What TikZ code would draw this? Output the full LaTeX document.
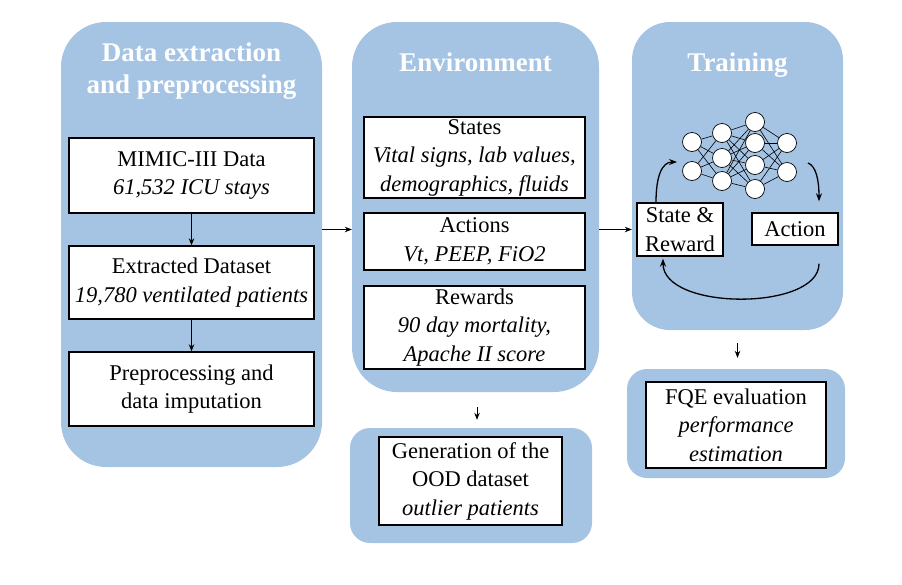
\documentclass[tikz,border=0pt]{standalone}
\usepackage{fontspec}
\setmainfont{Liberation Serif}
\usetikzlibrary{arrows.meta}
\definecolor{panelblue}{HTML}{A5C3E3}
\tikzset{
  panel/.style={draw=none, fill=panelblue, rectangle, inner sep=0},
  txtbox/.style={draw=black, line width=1.4pt, fill=white, align=center, inner sep=0,
    font=\fontsize{22.5}{28.5}\selectfont},
  ttl/.style={text=white, font=\fontsize{27}{32}\selectfont\bfseries, align=center, inner sep=0},
  neuron/.style={circle, draw=black, line width=0.7pt, fill=white, minimum size=19pt, inner sep=0},
  arr/.style={-{Stealth[length=7pt,width=5.5pt]}, line width=0.9pt},
  carr/.style={-{Stealth[length=8pt,width=6pt]}, line width=1.3pt},
}
\begin{document}
\begin{tikzpicture}[x=1pt,y=-1pt]
\useasboundingbox (0,0) rectangle (902,584);
% panels
\node[panel, rounded corners=45pt, minimum width=261pt, minimum height=445pt] (p1) at (191.5,244.5) {};
\node[panel, rounded corners=45pt, minimum width=247pt, minimum height=370pt] (p2) at (475.5,207) {};
\node[panel, rounded corners=38pt, minimum width=211pt, minimum height=308pt] (p3) at (737.5,176) {};
\node[panel, rounded corners=20pt, minimum width=242pt, minimum height=115pt] (p4) at (471,485.5) {};
\node[panel, rounded corners=20pt, minimum width=218pt, minimum height=109pt] (p5) at (736,423.5) {};
% titles
\node[ttl] (t1) at (191.5,71) {Data extraction\\and preprocessing};
\node[ttl, anchor=base] (t2) at (475.5,71) {Environment};
\node[ttl, anchor=base] (t3) at (737.5,71) {Training};
% left column boxes
\node[txtbox, minimum width=245pt, minimum height=75pt] (mimic) at (191.5,175.5) {MIMIC-III Data\\\textit{61,532 ICU stays}};
\node[txtbox, minimum width=245pt, minimum height=73pt] (extr) at (191.5,282.5) {Extracted Dataset\\\textit{19,780 ventilated patients}};
\node[txtbox, minimum width=245pt, minimum height=74pt] (prep) at (191.5,389) {Preprocessing and\\data imputation};
% middle boxes
\node[txtbox, minimum width=221pt, minimum height=81pt] (states) at (474.5,157.5) {States\\\textit{Vital signs, lab values,}\\\textit{demographics, fluids}};
\node[txtbox, minimum width=221pt, minimum height=57pt] (actions) at (474.5,241.5) {Actions\\\textit{Vt, PEEP, FiO2}};
\node[txtbox, minimum width=221pt, minimum height=83pt] (rewards) at (474.5,327.5) {Rewards\\\textit{90 day mortality,}\\\textit{Apache II score}};
\node[txtbox, minimum width=183pt, minimum height=88pt] (ood) at (470.5,481) {Generation of the\\OOD dataset\\\textit{outlier patients}};
% right boxes
\node[txtbox, minimum width=86pt, minimum height=53pt] (sr) at (680,229.5) {State \&\\Reward};
\node[txtbox, minimum width=86pt, minimum height=32pt] (act) at (795,229) {Action};
\node[txtbox, minimum width=180pt, minimum height=86pt] (fqe) at (736,425) {FQE evaluation\\\textit{performance}\\\textit{estimation}};
% neural network
\foreach \i/\y in {1/142,2/171} \node[neuron] (a\i) at (692,\y) {};
\foreach \i/\y in {1/133,2/158,3/181} \node[neuron] (b\i) at (722,\y) {};
\foreach \i/\y in {1/122,2/143,3/165,4/189} \node[neuron] (c\i) at (755,\y) {};
\foreach \i/\y in {1/143,2/172} \node[neuron] (d\i) at (787,\y) {};
\foreach \i in {1,2} \foreach \j in {1,2,3} \draw[line width=0.6pt] (a\i) -- (b\j);
\foreach \i in {1,2,3} \foreach \j in {1,2,3,4} \draw[line width=0.6pt] (b\i) -- (c\j);
\foreach \i in {1,2,3,4} \foreach \j in {1,2} \draw[line width=0.6pt] (c\i) -- (d\j);
% arrows left column
\draw[arr] (mimic) -- (extr);
\draw[arr] (extr) -- (prep);
% panel to panel
\draw[arr] (p1.east |- sr.west) -- (p2.west |- sr.west);
\draw[arr] (p2.east |- sr.west) -- (p3.west |- sr.west);
\draw[arr, shorten <=15pt, shorten >=8pt] ([xshift=1.5pt]p2.south) -- ([xshift=1.5pt]p2.south |- p4.north);
\draw[arr, shorten <=13pt, shorten >=11pt] (p3.south) -- (p3.south |- p5.north);
% training loop
\coordinate (nnin) at (677,162);
\coordinate (nnout) at (808,163);
\draw[carr] ([xshift=-24pt]sr.north) .. controls (656,176) and (662,162) .. (nnin);
\draw[carr] (nnout) .. controls (816,166) and (819,180) .. ([xshift=24pt,yshift=11pt]act.north);
\draw[carr] ([xshift=24pt,yshift=-18pt]act.south) .. controls (819,311) and (663,311) .. ([xshift=-17pt,yshift=-2pt]sr.south);
\end{tikzpicture}
\end{document}
